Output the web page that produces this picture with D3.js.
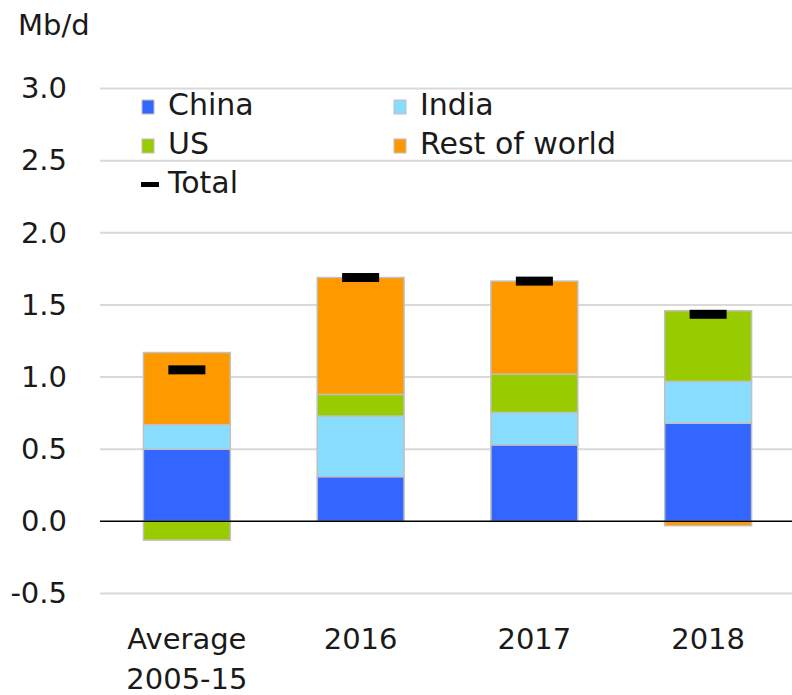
<!DOCTYPE html>
<html><head><meta charset="utf-8">
<script src="https://cdn.jsdelivr.net/npm/d3@7"></script>
<style>body{margin:0;background:#fff}svg text{font-family:"DejaVu Sans",sans-serif;fill:#1a1a1a}</style>
</head><body><svg id="c" width="792" height="695"></svg>
<script>
const categories = ["Average 2005-15", "2016", "2017", "2018"];
const seriesNames = ["China", "India", "US", "Rest of world"];
const china = [0.50, 0.31, 0.53, 0.68];
const india = [0.17, 0.42, 0.225, 0.29];
const us = [-0.13, 0.15, 0.265, 0.49];
const rest = [0.50, 0.81, 0.645, -0.03];
const total = [1.05, 1.69, 1.665, 1.435];
const yTicks = [-0.5, 0, 0.5, 1.0, 1.5, 2.0, 2.5, 3.0];
const colors = ["#3366ff", "#88ddff", "#99cc00", "#ff9900"];

const svg = d3.select("#c");
const fs = 29;
const x = d3.scaleBand().domain(categories).range([100, 795]).paddingInner(0.5).paddingOuter(0.25);
const y = d3.scaleLinear().domain([-0.5, 3.0]).range([593.5, 88.5]);

const rows = categories.map((c, i) => ({cat: c, "China": china[i], "India": india[i], "US": us[i], "Rest of world": rest[i]}));
const stack = d3.stack().keys(seriesNames).offset(d3.stackOffsetDiverging)(rows);

// gridlines
svg.append("g").selectAll("line").data(yTicks.filter(t => t !== 0)).join("line")
  .attr("x1", 100).attr("x2", 792).attr("y1", d => y(d)).attr("y2", d => y(d))
  .attr("stroke", "#d9d9d9").attr("stroke-width", 2);

// y axis labels
const fmt = d3.format(".1f");
const yAxis = d3.axisLeft(y).tickValues(yTicks).tickFormat(d => fmt(d).replace("\u2212", "-")).tickSize(0).tickPadding(0);
const ya = svg.append("g").attr("transform", "translate(67,0)").call(yAxis);
ya.select(".domain").remove();
ya.selectAll("text").attr("font-size", fs).attr("font-family", "DejaVu Sans").attr("fill", "#1a1a1a");

svg.append("text").attr("x", 18).attr("y", 35).attr("font-size", fs).text("Mb/d");

// bars
svg.append("g").selectAll("g").data(stack).join("g")
  .attr("fill", (d, i) => colors[i])
  .selectAll("rect").data(d => d).join("rect")
  .attr("x", d => x(d.data.cat))
  .attr("width", x.bandwidth())
  .attr("y", d => y(Math.max(d[0], d[1])))
  .attr("height", d => Math.abs(y(d[0]) - y(d[1])))
  .attr("stroke", "#c0c0c0").attr("stroke-width", 1.5);

// zero line
svg.append("line").attr("x1", 100).attr("x2", 792).attr("y1", y(0)).attr("y2", y(0))
  .attr("stroke", "#000").attr("stroke-width", 1.5);

// total markers
svg.append("g").selectAll("rect").data(total).join("rect")
  .attr("x", (d, i) => x(categories[i]) + x.bandwidth() / 2 - 18.5)
  .attr("width", 37)
  .attr("y", d => y(d) - 4.5)
  .attr("height", 9)
  .attr("fill", "#000");

// x labels
const xl = svg.append("g");
categories.forEach(c => {
  const cx = x(c) + x.bandwidth() / 2;
  const parts = c === "Average 2005-15" ? ["Average", "2005-15"] : [c];
  parts.forEach((p, j) => {
    xl.append("text").attr("x", cx).attr("y", 649 + j * 40).attr("text-anchor", "middle")
      .attr("font-size", fs).text(p);
  });
});

// legend
const lfs = 30;
const leg = svg.append("g");
const legPos = [[142, 115], [394, 115], [142, 154], [394, 154]];
seriesNames.forEach((n, i) => {
  const [lx, ly] = legPos[i];
  leg.append("rect").attr("x", lx).attr("y", ly - 15).attr("width", 12).attr("height", 14)
    .attr("fill", colors[i]).attr("stroke", "#c0c0c0").attr("stroke-width", 1);
  leg.append("text").attr("x", lx + 26).attr("y", ly).attr("font-size", lfs).text(n);
});
leg.append("rect").attr("x", 141).attr("y", 182).attr("width", 18).attr("height", 5).attr("fill", "#000");
leg.append("text").attr("x", 168).attr("y", 193).attr("font-size", lfs).text("Total");
</script></body></html>
